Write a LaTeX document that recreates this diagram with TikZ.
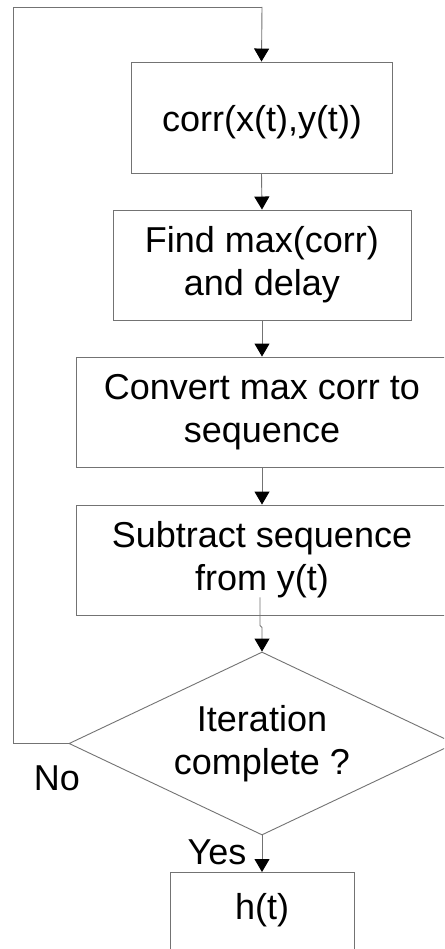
\documentclass[tikz,border=0pt]{standalone}
\usepackage{fontspec}
\setmainfont{Liberation Sans}
\usetikzlibrary{shapes.geometric,arrows.meta}
\begin{document}
\begin{tikzpicture}[x=1pt,y=-1pt,
  every node/.style={font=\fontsize{36}{43}\selectfont, align=center},
  box/.style={draw=black!55, line width=0.9pt, rectangle, inner sep=0pt},
  link/.style={draw=black!55, line width=0.9pt, -{Triangle[width=15pt,length=13pt,black]}},
  wire/.style={draw=black!55, line width=0.9pt}]
\useasboundingbox (0,0) rectangle (444,949);
\clip (0,0) rectangle (444,949);
\fill[white] (0,0) rectangle (444,949);

% processing steps
\node (b1) [box, minimum width=261pt, minimum height=111pt] at (261.5,117.5) {};
\node (b1t) at (262,122) {corr(x(t),y(t))};
\node (b2) [box, minimum width=298pt, minimum height=110pt] at (262,265) {Find max(corr)\\and delay};
\node (b3) [box, minimum width=372pt, minimum height=110pt] at (262,412) {Convert max corr to\\sequence};
\node (b4) [box, minimum width=372pt, minimum height=110pt] at (262,560) {Subtract sequence\\from y(t)};

% decision
\node (dec) [draw=black!55, line width=0.9pt, diamond, aspect=2.1, inner sep=0pt,
  minimum width=386pt, minimum height=183pt] at (262,743.5) {Iteration\\complete ?};

% result
\node (out) [box, minimum width=184pt, minimum height=100pt, anchor=north] at (262,872) {};
\node (outt) at (262,910) {h(t)};

% connectors
\draw[link] (b1.south) -- (b2.north);
\draw[link] (b2.south) -- (b3.north);
\draw[link] (b3.south) -- (b4.north);
\coordinate (s4) at ([xshift=-2pt,yshift=18pt]b4.south);
\coordinate (j4) at ([xshift=-2pt,yshift=-10pt]b4.south);
\draw[link] (s4) -- (j4) -- ([yshift=-12pt]b4.south) -- (dec.north);
\draw[link] (dec.south) -- (out.north);

% feedback loop
\coordinate (lb) at (13,743.5);
\coordinate (lt) at (13,7);
\coordinate (rt) at (262,7);
\draw[wire] (dec.west) -- (lb) -- (lt) -- (rt);
\draw[link] (rt) -- (b1.north);

% branch labels
\node (no) at (57,778) {No};
\node (yes) at (217,852) {Yes};
\end{tikzpicture}
\end{document}
